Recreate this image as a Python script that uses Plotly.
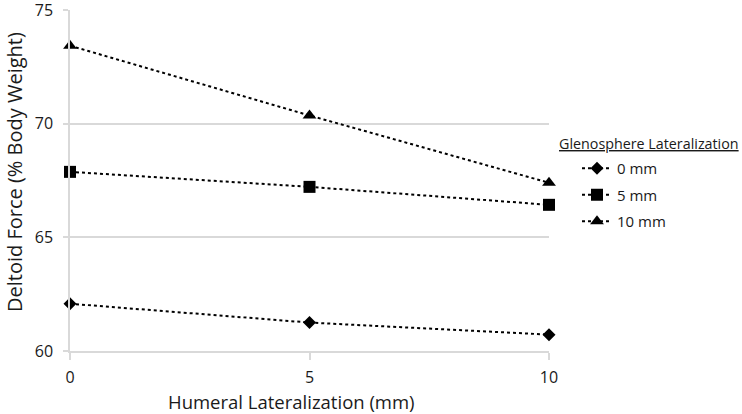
import plotly.graph_objects as go

humeral = [0, 5, 10]
series_names = ["0 mm", "5 mm", "10 mm"]
force_0mm = [62.08, 61.25, 60.72]
force_5mm = [67.88, 67.22, 66.43]
force_10mm = [73.43, 70.36, 67.40]
x_ticks = [0, 5, 10]
y_ticks = [60, 65, 70, 75]
legend_title = "Glenosphere Lateralization"
x_title = "Humeral Lateralization (mm)"
y_title = "Deltoid Force (% Body Weight)"

FONT = "Open Sans"
TXT = "#1a1a1a"
symbols = ["diamond", "square", "triangle-up"]
sizes = [10, 12, 12]

fig = go.Figure()
for i, (name, vals, sym, sz) in enumerate(zip(series_names, [force_0mm, force_5mm, force_10mm], symbols, sizes)):
    fig.add_trace(go.Scatter(
        x=humeral, y=vals, name=name, mode="lines+markers",
        legendgroup=f"g{i}",
        line=dict(color="black", width=2, dash="dot"),
        marker=dict(symbol=sym, size=sz, color="black"),
        cliponaxis=False,
    ))

grid = "#d9d9d9"
L, R, T, B = 70, 193, 10, 63
PW, PH = 742 - L - R, 414 - T - B


def px(xp):
    return (xp - L) / PW


def py(yp):
    return 1 - (yp - T) / PH


fig.update_layout(
    width=742, height=414,
    margin=dict(l=L, r=R, t=T, b=B),
    paper_bgcolor="white", plot_bgcolor="white",
    font=dict(family=FONT, color=TXT, size=15),
    legend=dict(
        x=px(577), y=py(152), xanchor="left", yanchor="top",
        font=dict(size=15, family=FONT), traceorder="grouped", tracegroupgap=4,
        itemwidth=30, bgcolor="rgba(0,0,0,0)",
    ),
    annotations=[
        dict(text=f"<u>{legend_title}</u>", x=px(557), y=py(143), xref="paper", yref="paper",
             showarrow=False, xanchor="left", yanchor="middle",
             font=dict(size=14.3, family=FONT, color=TXT)),
        dict(text=x_title, x=px(291), y=py(401), xref="paper", yref="paper",
             showarrow=False, xanchor="center", yanchor="middle",
             font=dict(size=18.5, family=FONT, color=TXT)),
        dict(text=y_title, x=px(14), y=py(172), xref="paper", yref="paper", textangle=-90,
             showarrow=False, xanchor="center", yanchor="middle",
             font=dict(size=20, family=FONT, color=TXT)),
    ],
    xaxis=dict(
        range=[0, 10], tickvals=x_ticks, ticktext=[str(v) for v in x_ticks],
        showgrid=False, zeroline=False, showline=True, linecolor=grid, linewidth=1.5,
        ticks="outside", ticklen=7, tickcolor=grid, tickwidth=1.5,
        tickfont=dict(size=16), ticklabelstandoff=4, automargin=False,
        ticklabeloverflow="allow",
    ),
    yaxis=dict(
        range=[60, 75], tickvals=y_ticks, ticktext=[str(v) for v in y_ticks],
        showgrid=True, gridcolor=grid, gridwidth=1.5, zeroline=False,
        showline=True, linecolor=grid, linewidth=1.5,
        ticks="outside", ticklen=5, tickcolor=grid, tickwidth=1.5,
        tickfont=dict(size=16), ticklabelstandoff=7, automargin=False,
        ticklabeloverflow="allow",
    ),
)

fig.write_html(
    "out.html",
    config={"displayModeBar": False},
    post_script="document.body.style.margin='0';document.body.style.padding='0';",
)
